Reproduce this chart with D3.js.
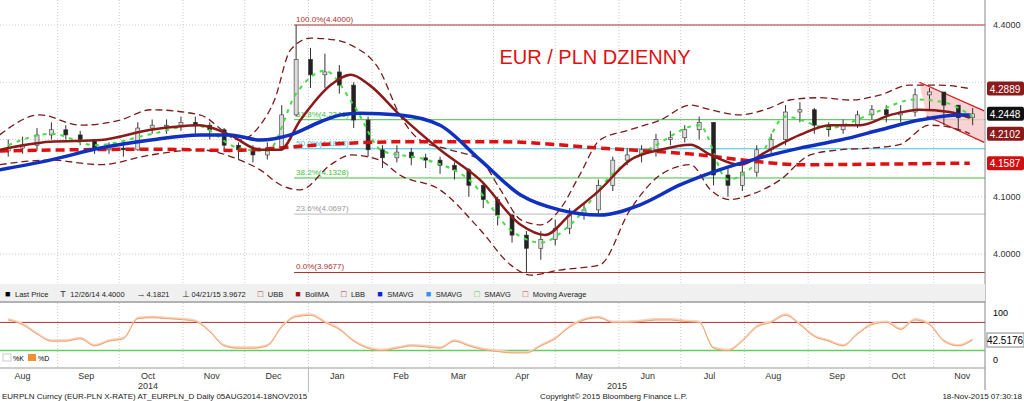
<!DOCTYPE html>
<html><head><meta charset="utf-8">
<script src="https://cdn.jsdelivr.net/npm/d3@7"></script>
<style>body{margin:0;background:#fff}svg{font-family:Arial,"Liberation Sans",sans-serif}</style>
</head><body><div id="chart"></div>
<script>
// weekly bars, week 0 = 8 Aug 2014
const closes = [4.185,4.19,4.208,4.217,4.208,4.20,4.182,4.185,4.182,4.22,4.225,4.225,4.23,4.225,4.217,4.19,4.182,4.173,4.185,4.243,
  4.34,4.313,4.318,4.295,4.234,4.182,4.168,4.178,4.168,4.164,4.155,4.147,4.12,4.095,4.068,4.033,4.01,4.025,4.045,4.068,
  4.077,4.12,4.164,4.173,4.182,4.20,4.203,4.217,4.23,4.138,4.12,4.143,4.182,4.20,4.248,4.252,4.225,4.217,4.225,4.243,
  4.252,4.243,4.248,4.278,4.283,4.26,4.238,4.2448]
const highs = [4.20,4.205,4.22,4.23,4.225,4.215,4.20,4.195,4.195,4.23,4.235,4.235,4.24,4.24,4.23,4.22,4.195,4.19,4.195,4.26,
  4.40,4.36,4.35,4.33,4.30,4.24,4.19,4.19,4.185,4.175,4.17,4.16,4.15,4.125,4.10,4.07,4.04,4.04,4.06,4.08,
  4.09,4.13,4.17,4.185,4.19,4.21,4.215,4.225,4.24,4.23,4.15,4.155,4.19,4.21,4.26,4.265,4.255,4.23,4.235,4.25,
  4.26,4.26,4.26,4.2889,4.29,4.28,4.26,4.255]
const lows = [4.17,4.175,4.18,4.20,4.20,4.19,4.175,4.175,4.17,4.18,4.21,4.21,4.215,4.21,4.20,4.18,4.165,4.16,4.165,4.18,
  4.24,4.29,4.29,4.28,4.22,4.17,4.15,4.16,4.155,4.15,4.14,4.13,4.10,4.08,4.05,4.02,3.9672,3.99,4.015,4.035,
  4.06,4.07,4.11,4.155,4.16,4.17,4.19,4.195,4.20,4.12,4.10,4.11,4.135,4.175,4.19,4.23,4.21,4.205,4.21,4.22,
  4.235,4.23,4.23,4.24,4.25,4.225,4.215,4.225]

// [week index, value]
const smaBlue = [[-0.6,4.147],[2.9,4.164],[6.4,4.185],[9.9,4.199],[13.3,4.208],[15.4,4.208],[17.5,4.199],[19.6,4.208],[21.7,4.231],[23.1,4.243],[24.4,4.246],[27.2,4.243],[30,4.225],[32.8,4.164],[35.6,4.103],[38.3,4.077],[41.1,4.068],[43.9,4.086],[46.7,4.121],[49.4,4.147],[52.2,4.168],[55,4.185],[57.8,4.199],[60.6,4.217],[63.3,4.234],[66.1,4.243],[66.8,4.243]]
const bollMA = [[-0.6,4.182],[2.9,4.196],[6.4,4.199],[9.9,4.217],[13.3,4.225],[15.4,4.208],[17.5,4.182],[18.9,4.182],[20.3,4.234],[22.4,4.295],[23.8,4.313],[25.1,4.295],[27.2,4.243],[30,4.182],[32.8,4.129],[35.6,4.051],[37.3,4.033],[39,4.068],[41.1,4.112],[43.2,4.164],[45.3,4.182],[47.4,4.191],[48.8,4.173],[50.8,4.156],[52.9,4.182],[55,4.208],[57.1,4.225],[59.2,4.225],[61.3,4.243],[63.3,4.252],[65.4,4.248],[66.8,4.238]]
const sma200 = [[-0.6,4.18],[9.9,4.183],[15.4,4.181],[23.1,4.193],[27.2,4.196],[34.2,4.196],[41.1,4.185],[48.1,4.173],[52.2,4.161],[55,4.156],[60.6,4.157],[66.8,4.1587]]
const upperBB = [[-0.6,4.208],[2.2,4.243],[5,4.225],[7.8,4.234],[9.9,4.252],[13.3,4.243],[16.1,4.199],[17.5,4.225],[18.5,4.269],[19.6,4.356],[21,4.377],[22.7,4.374],[23.8,4.365],[25.8,4.321],[27.2,4.243],[28.6,4.199],[30.7,4.182],[32.8,4.164],[34.2,4.112],[35.6,4.06],[37,4.051],[38.3,4.077],[39.7,4.138],[41.1,4.199],[43.2,4.217],[45.3,4.234],[47.4,4.26],[48.8,4.252],[50.8,4.243],[52.9,4.255],[54.3,4.269],[56.4,4.273],[58.5,4.269],[60.6,4.278],[62.6,4.295],[64.7,4.295],[66.8,4.2889]]
const lowerBB = [[-0.6,4.156],[2.9,4.164],[6.4,4.156],[9.9,4.173],[13.3,4.182],[16.1,4.164],[17.5,4.147],[18.9,4.121],[20.3,4.112],[22.4,4.156],[23.8,4.173],[25.8,4.164],[27.2,4.138],[30,4.112],[32.8,4.042],[34.9,3.981],[36.3,3.963],[38.3,3.972],[41.1,3.981],[43.2,4.077],[45.3,4.138],[47.4,4.156],[48.8,4.112],[50.1,4.095],[51.5,4.103],[53.6,4.129],[55.7,4.173],[57.8,4.182],[59.9,4.185],[61.9,4.191],[64,4.225],[66.1,4.217],[66.8,4.2102]]
const fastMA = [[0,4.19],[3,4.21],[6,4.19],[10,4.21],[13,4.225],[16,4.185],[18,4.18],[20,4.28],[22,4.32],[24,4.26],[26,4.18],[29,4.165],[32,4.13],[35,4.04],[37,4.02],[39,4.05],[42,4.14],[45,4.19],[48,4.225],[50,4.13],[52,4.16],[54,4.24],[57,4.22],[60,4.245],[63,4.27],[65,4.265],[67,4.24]]
const stochD = [85,75,55,40,40,45,30,40,45,88,90,88,86,82,60,30,25,25,30,70,92,95,80,65,40,25,20,25,30,28,25,40,30,22,18,15,15,30,45,70,85,90,80,80,82,85,85,82,80,25,20,40,70,80,95,75,50,40,30,55,75,80,65,85,75,40,30,42.5176]

const fibLevels = [["100.0%", 4.4, "#b03030"],["61.8%", 4.2346, "#40c040"],["50.0%", 4.1838, "#40c0e0"],["38.2%", 4.1328, "#40c040"],["23.6%", 4.0697, "#bbbbbb"],["0.0%", 3.9677, "#b03030"]]
const priceTicks = [4.0, 4.1, 4.2, 4.3, 4.4]
const monthTicks = ["Aug","Sep","Oct","Nov","Dec","Jan","Feb","Mar","Apr","May","Jun","Jul","Aug","Sep","Oct","Nov"]
const priceTags = [[4.2889,"#8b1a1a"],[4.2448,"#111"],[4.2102,"#8b1a1a"],[4.1587,"#d01010"]]

const W = 1024, H = 401, plotR = 985
const start = new Date(2014, 7, 8)
const wDate = i => new Date(start.getTime() + i * 7 * 864e5)

const x = d3.scaleTime().domain([new Date(2014, 7, 4), new Date(2015, 10, 26)]).range([0, plotR])
const y = d3.scaleLinear().domain([4.0, 4.4]).range([254, 25])
const ys = d3.scaleLinear().domain([0, 100]).range([360, 313])

const svg = d3.select('#chart').append('svg').attr('width', W).attr('height', H)
svg.append('rect').attr('width', W).attr('height', H).attr('fill', '#fff')
svg.append('defs').append('clipPath').attr('id', 'cp').append('rect').attr('width', plotR).attr('height', 283)

// grid
const monthStarts = d3.timeMonth.range(new Date(2014, 7, 1), new Date(2015, 11, 1)).slice(1)
svg.selectAll('.vg').data(monthStarts).enter().append('line')
  .attr('x1', d => x(d)).attr('x2', d => x(d)).attr('y1', 0).attr('y2', 368)
  .attr('stroke', '#ccc').attr('stroke-dasharray', '1,2')
svg.selectAll('.hg').data(priceTicks).enter().append('line')
  .attr('x1', 0).attr('x2', plotR).attr('y1', d => y(d)).attr('y2', d => y(d))
  .attr('stroke', '#ccc').attr('stroke-dasharray', '1,2')

const g = svg.append('g').attr('clip-path', 'url(#cp)')

// fibonacci
const fibX = x(wDate(20)) - 2
fibLevels.forEach(f => {
  g.append('line').attr('x1', fibX).attr('x2', plotR).attr('y1', y(f[1])).attr('y2', y(f[1]))
    .attr('stroke', f[2]).attr('stroke-width', 1)
  g.append('text').attr('x', fibX + 2).attr('y', y(f[1]) - 3).attr('font-size', 8).attr('fill', f[2] === '#bbbbbb' ? '#999' : f[2])
    .text(f[0] + '(' + f[1].toFixed(4) + ')')
})

// channel
const ch = [[63.3, 4.3], [67.8, 4.25], [67.8, 4.195], [63.8, 4.241]]
g.append('polygon').attr('points', ch.map(p => [x(wDate(p[0])), y(p[1])].join(',')).join(' '))
  .attr('fill', '#f7c8c8').attr('opacity', 0.8)
g.append('line').attr('x1', x(wDate(63.3))).attr('y1', y(4.3)).attr('x2', x(wDate(67.8))).attr('y2', y(4.25)).attr('stroke', '#d02020').attr('stroke-width', 1.3)
g.append('line').attr('x1', x(wDate(63.8))).attr('y1', y(4.241)).attr('x2', x(wDate(67.8))).attr('y2', y(4.195)).attr('stroke', '#d02020').attr('stroke-width', 1.3)

const line = d3.line().x(d => x(wDate(d[0]))).y(d => y(d[1])).curve(d3.curveMonotoneX)

// candles
closes.forEach((c, i) => {
  const o = i === 0 ? 4.18 : closes[i - 1]
  const cx = x(wDate(i))
  g.append('line').attr('x1', cx).attr('x2', cx).attr('y1', y(highs[i])).attr('y2', y(lows[i])).attr('stroke', '#333')
  g.append('rect').attr('x', cx - 2).attr('width', 4)
    .attr('y', y(Math.max(o, c))).attr('height', Math.max(1, Math.abs(y(o) - y(c))))
    .attr('fill', c >= o ? '#ddd' : '#222').attr('stroke', '#333').attr('stroke-width', 0.6)
})

g.append('path').attr('d', line(upperBB)).attr('fill', 'none').attr('stroke', '#7a1a1a').attr('stroke-width', 1.3).attr('stroke-dasharray', '7,4')
g.append('path').attr('d', line(lowerBB)).attr('fill', 'none').attr('stroke', '#7a1a1a').attr('stroke-width', 1.3).attr('stroke-dasharray', '7,4')
g.append('path').attr('d', line(fastMA)).attr('fill', 'none').attr('stroke', '#44dd44').attr('stroke-width', 2).attr('stroke-dasharray', '4,5')
g.append('path').attr('d', line(sma200)).attr('fill', 'none').attr('stroke', '#dd1111').attr('stroke-width', 3.5).attr('stroke-dasharray', '9,5')
g.append('path').attr('d', line(bollMA)).attr('fill', 'none').attr('stroke', '#8b1a1a').attr('stroke-width', 2.5)
g.append('path').attr('d', line(smaBlue)).attr('fill', 'none').attr('stroke', '#1030c0').attr('stroke-width', 3.5)

svg.append('text').attr('x', 595).attr('y', 64).attr('text-anchor', 'middle').attr('font-size', 20)
  .attr('fill', '#e01010').text('EUR / PLN DZIENNY')

// right axis
svg.append('line').attr('x1', plotR).attr('x2', plotR).attr('y1', 0).attr('y2', 390).attr('stroke', '#888')
svg.selectAll('.pt').data(priceTicks.filter(d => d !== 4.3 && d !== 4.2)).enter().append('text')
  .attr('x', 993).attr('y', d => y(d) + 3).attr('font-size', 9).attr('fill', '#333').text(d => d.toFixed(4))
priceTags.forEach(t => {
  svg.append('rect').attr('x', 987).attr('y', y(t[0]) - 7).attr('width', 37).attr('height', 14).attr('rx', 2).attr('fill', t[1])
  svg.append('text').attr('x', 1005).attr('y', y(t[0]) + 4).attr('text-anchor', 'middle').attr('font-size', 10).attr('fill', '#fff').text(t[0].toFixed(4))
})

// legend bar
svg.append('rect').attr('x', 0).attr('y', 284).attr('width', plotR).attr('height', 17).attr('fill', '#f0f0f0')
svg.append('line').attr('x1', 0).attr('x2', plotR).attr('y1', 302).attr('y2', 302).attr('stroke', '#999').attr('stroke-width', 1.5)
const leg = [["■","#000","Last Price"],["T","#333","12/26/14 4.4000"],["→","#333","4.1821"],["⊥","#333","04/21/15 3.9672"],["□","#a03030","UBB"],["■","#a01010","BollMA"],["□","#a03030","LBB"],["■","#1020d0","SMAVG"],["■","#3090f0","SMAVG"],["□","#44cc44","SMAVG"],["□","#c04040","Moving Average"]]
let lx = 5
leg.forEach(l => {
  svg.append('text').attr('x', lx).attr('y', 297).attr('font-size', 9).attr('fill', l[1]).text(l[0])
  const t = svg.append('text').attr('x', lx + 10).attr('y', 297).attr('font-size', 7.5).attr('fill', '#222').text(l[2])
  lx += 14 + t.node().getComputedTextLength() + 8
})

// stochastic panel
svg.append('line').attr('x1', 0).attr('x2', plotR).attr('y1', ys(80)).attr('y2', ys(80)).attr('stroke', '#b03030')
svg.append('line').attr('x1', 0).attr('x2', plotR).attr('y1', ys(20)).attr('y2', ys(20)).attr('stroke', '#60d060').attr('stroke-width', 1.5)
const sl = d3.line().x((d, i) => x(wDate(i))).y(d => ys(d)).curve(d3.curveMonotoneX)
svg.append('path').attr('d', d3.area().x((d, i) => x(wDate(i))).y0(d => ys(d)).y1(d => ys(d) - 2).curve(d3.curveMonotoneX)(stochD)).attr('fill', '#f8d0c0')
svg.append('path').attr('d', sl(stochD)).attr('fill', 'none').attr('stroke', '#f0a060').attr('stroke-width', 1)
svg.append('rect').attr('x', 3).attr('y', 354).attr('width', 8).attr('height', 7).attr('fill', '#fff').attr('stroke', '#ccc')
svg.append('text').attr('x', 13).attr('y', 361).attr('font-size', 7).text('%K')
svg.append('rect').attr('x', 28).attr('y', 354).attr('width', 8).attr('height', 7).attr('fill', '#f09030')
svg.append('text').attr('x', 38).attr('y', 361).attr('font-size', 7).text('%D')
svg.append('text').attr('x', 993).attr('y', ys(100) + 3).attr('font-size', 9).text('100')
svg.append('text').attr('x', 993).attr('y', ys(0) + 3).attr('font-size', 9).text('0')
svg.append('rect').attr('x', 987).attr('y', ys(42.5176) - 7).attr('width', 37).attr('height', 14).attr('fill', '#fff').attr('stroke', '#888')
svg.append('text').attr('x', 1005).attr('y', ys(42.5176) + 4).attr('text-anchor', 'middle').attr('font-size', 10).text('42.5176')
svg.append('line').attr('x1', 0).attr('x2', plotR).attr('y1', 368).attr('y2', 368).attr('stroke', '#999')

// month axis
const midMonths = monthTicks.map((m, i) => new Date(2014, 7 + i, 15))
svg.selectAll('.mt').data(midMonths).enter().append('text')
  .attr('x', d => x(d)).attr('y', 379).attr('text-anchor', 'middle').attr('font-size', 9).attr('fill', '#333')
  .text((d, i) => monthTicks[i])
svg.append('text').attr('x', x(new Date(2014, 9, 15))).attr('y', 389).attr('text-anchor', 'middle').attr('font-size', 9).attr('fill', '#333').text('2014')
svg.append('text').attr('x', x(new Date(2015, 4, 31))).attr('y', 389).attr('text-anchor', 'middle').attr('font-size', 9).attr('fill', '#333').text('2015')
svg.append('line').attr('x1', x(new Date(2015, 0, 1))).attr('x2', x(new Date(2015, 0, 1))).attr('y1', 368).attr('y2', 392).attr('stroke', '#bbb')

// footer
svg.append('text').attr('x', 2).attr('y', 399).attr('font-size', 8).attr('fill', '#222').text('EURPLN Curncy (EUR-PLN X-RATE) AT_EURPLN_D  Daily 05AUG2014-18NOV2015')
svg.append('text').attr('x', 540).attr('y', 399).attr('font-size', 8).attr('fill', '#222').text('Copyright© 2015 Bloomberg Finance L.P.')
svg.append('text').attr('x', 1022).attr('y', 399).attr('text-anchor', 'end').attr('font-size', 8).attr('fill', '#222').text('18-Nov-2015 07:30:18')
</script></body></html>
